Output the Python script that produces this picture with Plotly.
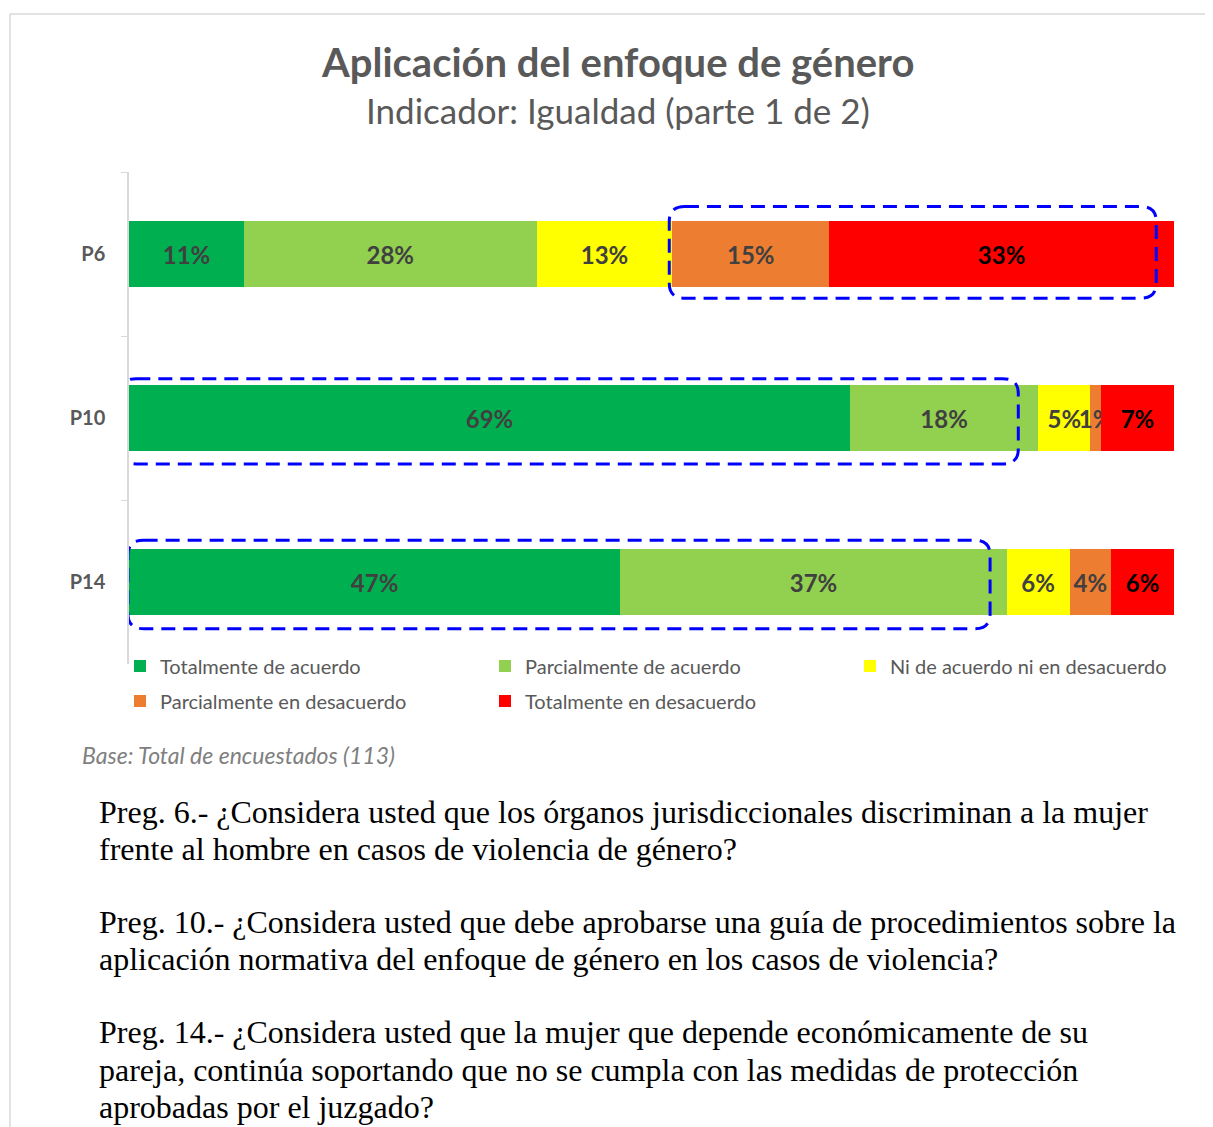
import plotly.graph_objects as go

questions = ["P6", "P10", "P14"]
series_names = ["Totalmente de acuerdo", "Parcialmente de acuerdo",
                "Ni de acuerdo ni en desacuerdo", "Parcialmente en desacuerdo",
                "Totalmente en desacuerdo"]
totalmente_acuerdo = [11, 69, 47]
parcialmente_acuerdo = [28, 18, 37]
ni_acuerdo = [13, 5, 6]
parcialmente_desacuerdo = [15, 1, 4]
totalmente_desacuerdo = [33, 7, 6]
series_values = [totalmente_acuerdo, parcialmente_acuerdo, ni_acuerdo,
                 parcialmente_desacuerdo, totalmente_desacuerdo]
colors = ["#00B050", "#92D050", "#FFFF00", "#ED7D31", "#FF0000"]
text_colors = ["#404040", "#404040", "#404040", "#404040", "#000000"]
legend_rows = ["legend", "legend", "legend", "legend2", "legend2"]

title = "Aplicación del enfoque de género"
subtitle = "Indicador: Igualdad (parte 1 de 2)"
base_note = "Base: Total de encuestados (113)"
question_lines = [
    "Preg. 6.- ¿Considera usted que los órganos jurisdiccionales discriminan a la mujer",
    "frente al hombre en casos de violencia de género?",
    "Preg. 10.- ¿Considera usted que debe aprobarse una guía de procedimientos sobre la",
    "aplicación normativa del enfoque de género en los casos de violencia?",
    "Preg. 14.- ¿Considera usted que la mujer que depende económicamente de su",
    "pareja, continúa soportando que no se cumpla con las medidas de protección",
    "aprobadas por el juzgado?",
]

# page body has an 8px margin; build the figure so the visible result lines up
OFF = 8
W, H = 1213 - OFF, 1127 - OFF
ML, MT = 129 - OFF, 172 - OFF
MR = W - (1174 - OFF)
MB = H - (664 - OFF)
PW, PH = W - ML - MR, H - MT - MB


def px_x(px):
    return (px - OFF - ML) / PW


def px_y(py):
    return (H - MB - (py - OFF)) / PH


fig = go.Figure()
for name, vals, col, tcol, lg in zip(series_names, series_values, colors, text_colors, legend_rows):
    fig.add_trace(go.Bar(
        y=questions, x=vals, name=name, orientation="h", legend=lg,
        marker=dict(color=col, line=dict(width=0)),
        text=[f"{v}%" for v in vals], textposition="inside", textangle=0,
        insidetextanchor="middle",
        textfont=dict(family="Lato", size=24, color=tcol, weight="bold"),
        hoverinfo="skip",
    ))

# dashed highlight boxes (x in data units, y in category index units)
highlights = [(51.7, 98.3, -0.29, 0.27), (-0.8, 85.1, 0.76, 1.28), (-0.1, 82.4, 1.745, 2.285)]
rx, ry = 1.5, 0.09
for x0, x1, y0, y1 in highlights:
    path = (f"M {x0+rx},{y0} L {x1-rx},{y0} Q {x1},{y0} {x1},{y0+ry} "
            f"L {x1},{y1-ry} Q {x1},{y1} {x1-rx},{y1} L {x0+rx},{y1} "
            f"Q {x0},{y1} {x0},{y1-ry} L {x0},{y0+ry} Q {x0},{y0} {x0+rx},{y0} Z")
    fig.add_shape(type="path", path=path, xref="x", yref="y",
                  line=dict(color="#0000FF", width=3, dash="14px,8px"), layer="above")

# outer frame
fig.add_shape(type="rect", xref="paper", yref="paper",
              x0=px_x(10), x1=px_x(1230), y0=px_y(1140), y1=px_y(14),
              line=dict(color="#D9D9D9", width=1.5), layer="below")

annotations = [
    dict(text=f"<b>{title}</b>", x=px_x(617), xanchor="center",
         y=px_y(62), yanchor="middle", font=dict(family="Lato", size=40, color="#595959")),
    dict(text=subtitle, x=px_x(618), xanchor="center",
         y=px_y(110), yanchor="middle", font=dict(family="Lato", size=35, color="#595959")),
    dict(text=f"<i>{base_note}</i>", x=px_x(80), xanchor="left",
         y=px_y(755), yanchor="middle", font=dict(family="Lato", size=23, color="#7F7F7F")),
]
line_centers = [812, 849, 922, 959, 1032, 1070, 1107]
for qt, cy in zip(question_lines, line_centers):
    annotations.append(dict(text=qt, x=px_x(97), xanchor="left", align="left",
                            y=px_y(cy), yanchor="middle",
                            font=dict(family="Liberation Serif", size=32, color="#000000")))
for a in annotations:
    a["showarrow"] = False
    a["xref"] = "paper"
    a["yref"] = "paper"

legend_common = dict(orientation="h", xanchor="left", yanchor="middle",
                     entrywidth=320, entrywidthmode="pixels", traceorder="normal",
                     font=dict(family="Lato", size=20, color="#595959"),
                     itemwidth=30, tracegroupgap=0, bgcolor="rgba(0,0,0,0)")

fig.update_layout(
    width=W, height=H, barmode="stack", bargap=0.6,
    margin=dict(l=ML, r=MR, t=MT, b=MB, autoexpand=False),
    paper_bgcolor="white", plot_bgcolor="white",
    annotations=annotations,
    uniformtext=dict(minsize=24, mode="show"),
    xaxis=dict(range=[0, 100], visible=False, fixedrange=True),
    yaxis=dict(categoryorder="array", categoryarray=questions, autorange="reversed",
               showline=True, linecolor="#D9D9D9", linewidth=1.5,
               ticks="outside", tickson="boundaries", ticklen=6, tickcolor="#D9D9D9",
               ticklabelstandoff=18,
               tickfont=dict(family="Lato", size=20, color="#595959", weight="bold")),
    legend=dict(x=px_x(120), y=px_y(666), **legend_common),
    legend2=dict(x=px_x(120), y=px_y(701), **legend_common),
    showlegend=True,
)

fig.write_html("out.html")
